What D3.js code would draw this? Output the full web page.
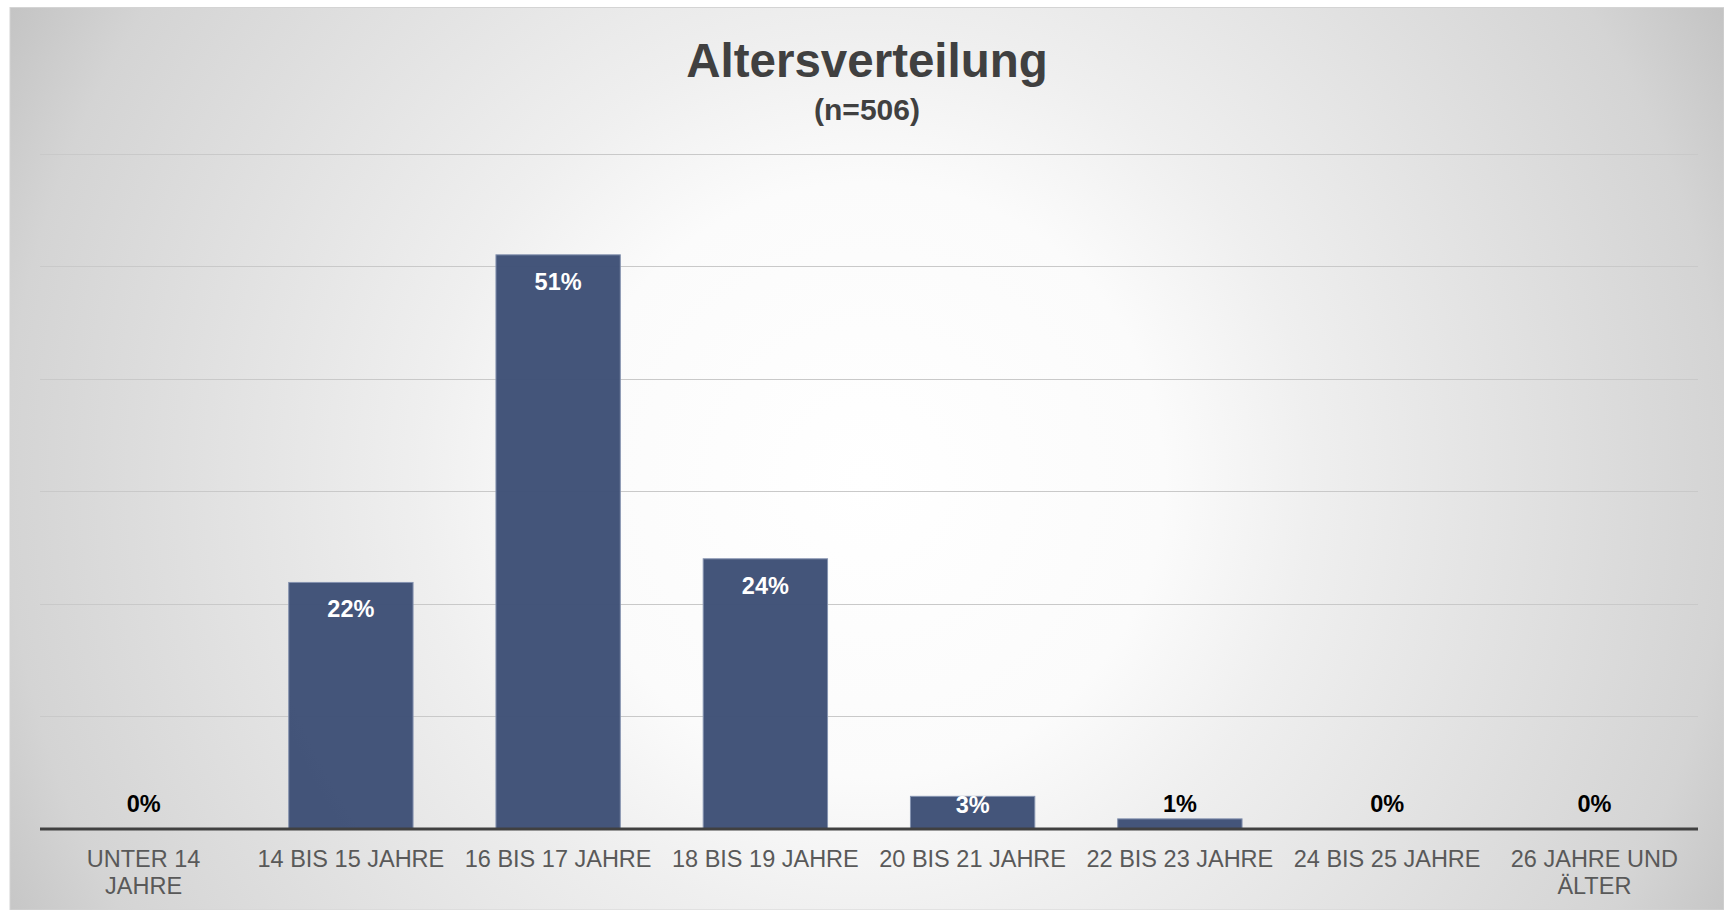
<!DOCTYPE html>
<html>
<head>
<meta charset="utf-8">
<script src="https://cdn.jsdelivr.net/npm/d3@7"></script>
<style>
  html, body { margin: 0; padding: 0; background: #fff; }
  svg { display: block; }
</style>
</head>
<body>
<svg id="chart" width="1724" height="910"></svg>
<script>
// data
const categories = ["UNTER 14 JAHRE", "14 BIS 15 JAHRE", "16 BIS 17 JAHRE", "18 BIS 19 JAHRE",
  "20 BIS 21 JAHRE", "22 BIS 23 JAHRE", "24 BIS 25 JAHRE", "26 JAHRE UND ÄLTER"];
const values = [0, 21.9, 51.0, 24.0, 2.9, 0.9, 0, 0];
const gridTicks = [0, 10, 20, 30, 40, 50, 60];
const title = "Altersverteilung";
const subtitle = "(n=506)";

const svg = d3.select("#chart");
const width = 1724, height = 910;
const margin = {top: 153.5, right: 26, bottom: 81, left: 40};
const font = "'Liberation Sans', Arial, sans-serif";

// background
const defs = svg.append("defs");
const grad = defs.append("radialGradient")
  .attr("id", "bg")
  .attr("gradientUnits", "userSpaceOnUse")
  .attr("cx", 867).attr("cy", 480).attr("r", 990);
[[0, "#ffffff"], [0.3, "#fbfbfb"], [0.45, "#efefef"], [0.87, "#d4d4d4"], [1, "#c2c2c2"]]
  .forEach(s => grad.append("stop").attr("offset", s[0]).attr("stop-color", s[1]));

svg.append("rect")
  .attr("x", 10).attr("y", 7.5)
  .attr("width", width - 10).attr("height", height - 7.5)
  .attr("fill", "url(#bg)")
  .attr("stroke", "#d4d4d4").attr("stroke-width", 1);

const x = d3.scaleBand()
  .domain(categories)
  .range([margin.left, width - margin.right])
  .paddingInner(0.4)
  .paddingOuter(0.2);

const y = d3.scaleLinear()
  .domain([0, 60])
  .range([height - margin.bottom, margin.top]);

const rows = categories.map((c, i) => ({cat: c, value: values[i]}));

// gridlines
svg.append("g")
  .selectAll("line")
  .data(gridTicks.slice(1))
  .enter().append("line")
  .attr("x1", margin.left).attr("x2", width - margin.right)
  .attr("y1", d => Math.round(y(d)) + 0.5).attr("y2", d => Math.round(y(d)) + 0.5)
  .attr("stroke", "#c9c9c9")
  .attr("stroke-width", 1);

// bars
svg.append("g")
  .selectAll("rect")
  .data(rows.filter(d => d.value > 0))
  .enter().append("rect")
  .attr("x", d => x(d.cat))
  .attr("y", d => y(d.value))
  .attr("width", x.bandwidth())
  .attr("height", d => y(0) - y(d.value))
  .attr("fill", "#3e5076")
  .attr("fill-opacity", 0.97)
  .attr("stroke", "#8593b0")
  .attr("stroke-width", 1);

// baseline
svg.append("line")
  .attr("x1", margin.left).attr("x2", width - margin.right)
  .attr("y1", y(0)).attr("y2", y(0))
  .attr("stroke", "#404040")
  .attr("stroke-width", 3);

// data labels
svg.append("g")
  .selectAll("text")
  .data(rows)
  .enter().append("text")
  .attr("x", d => x(d.cat) + x.bandwidth() / 2)
  .attr("y", d => d.value >= 2 ? Math.min(y(d.value) + 35, y(0) - 16) : y(0) - 17)
  .attr("text-anchor", "middle")
  .attr("font-family", font)
  .attr("font-weight", "bold")
  .attr("font-size", "23.5px")
  .attr("fill", d => d.value >= 2 ? "#ffffff" : "#000000")
  .text(d => Math.round(d.value) + "%");

// category labels, wrapped like the original
const xAxis = svg.append("g")
  .attr("transform", `translate(0,${y(0)})`)
  .call(d3.axisBottom(x).tickSize(0).tickPadding(0));
xAxis.select(".domain").remove();
xAxis.selectAll("text")
  .attr("font-family", font)
  .attr("font-size", "23.5px")
  .attr("fill", "#595959")
  .attr("dy", null)
  .attr("y", 38)
  .each(function() { wrap(d3.select(this), 192); });

function wrap(text, maxWidth) {
  const words = text.text().split(" ");
  text.text(null);
  let line = [];
  let tspan = text.append("tspan").attr("x", 0);
  words.forEach(w => {
    line.push(w);
    tspan.text(line.join(" "));
    if (tspan.node().getComputedTextLength() > maxWidth && line.length > 1) {
      line.pop();
      tspan.text(line.join(" "));
      line = [w];
      tspan = text.append("tspan").attr("x", 0).attr("dy", 26.5).text(w);
    }
  });
}

// titles
svg.append("text")
  .attr("x", 867).attr("y", 77)
  .attr("text-anchor", "middle")
  .attr("font-family", font)
  .attr("font-weight", "bold")
  .attr("font-size", "47.5px")
  .attr("fill", "#404040")
  .text(title);

svg.append("text")
  .attr("x", 867).attr("y", 120)
  .attr("text-anchor", "middle")
  .attr("font-family", font)
  .attr("font-weight", "bold")
  .attr("font-size", "30px")
  .attr("fill", "#404040")
  .text(subtitle);
</script>
</body>
</html>
